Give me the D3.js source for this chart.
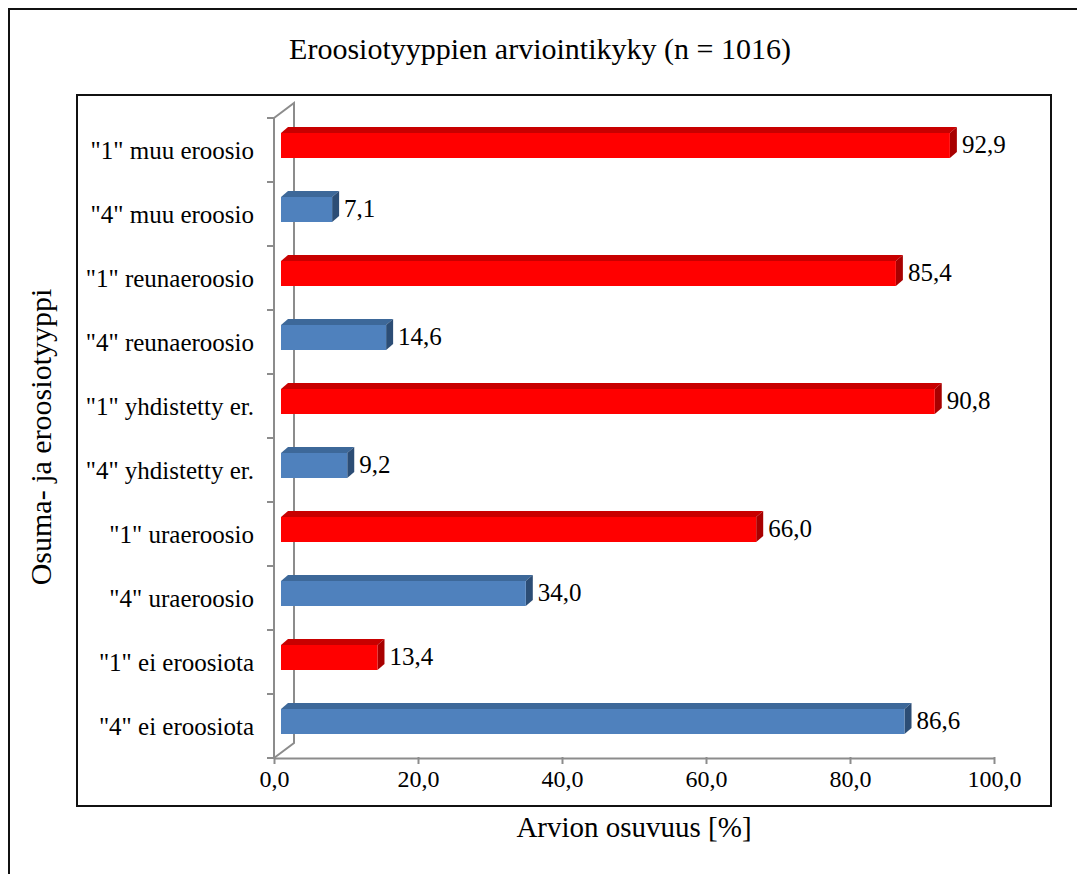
<!DOCTYPE html>
<html>
<head>
<meta charset="utf-8">
<script src="https://cdn.jsdelivr.net/npm/d3@7"></script>
<style>
  html, body { margin: 0; padding: 0; background: #fff; }
  svg { display: block; }
  text { font-family: "Liberation Serif", "Times New Roman", serif; fill: #000; }
</style>
</head>
<body>
<svg id="chart" width="1077" height="874"></svg>
<script>
// Categories from top to bottom
const categories = [
  '"1" muu eroosio',
  '"4" muu eroosio',
  '"1" reunaeroosio',
  '"4" reunaeroosio',
  '"1" yhdistetty er.',
  '"4" yhdistetty er.',
  '"1" uraeroosio',
  '"4" uraeroosio',
  '"1" ei eroosiota',
  '"4" ei eroosiota'
];
const values = [92.9, 7.1, 85.4, 14.6, 90.8, 9.2, 66.0, 34.0, 13.4, 86.6];
const groups = ["1", "4", "1", "4", "1", "4", "1", "4", "1", "4"];
const xTicks = [0, 20, 40, 60, 80, 100];

const title = "Eroosiotyyppien arviointikyky (n = 1016)";
const xTitle = "Arvion osuvuus [%]";
const yTitle = "Osuma- ja eroosiotyyppi";

const palette = {
  "1": { front: "#ff0000", top: "#c80000", side: "#a80000" },
  "4": { front: "#4f81bd", top: "#3d6899", side: "#2c4d75" }
};

const svg = d3.select("#chart");
const fmt = v => d3.format(".1f")(v).replace(".", ",");

// Frames
svg.append("rect").attr("x", 9).attr("y", 9).attr("width", 1100).attr("height", 900)
  .attr("fill", "none").attr("stroke", "#111").attr("stroke-width", 2);
svg.append("rect").attr("x", 77).attr("y", 95).attr("width", 974).attr("height", 711)
  .attr("fill", "none").attr("stroke", "#111").attr("stroke-width", 2);

// Front plane of the pseudo-3D plot
const x0 = 274, x1 = 994, yTop = 118, yBot = 758;
const depthX = 20, depthY = -15;
const x = d3.scaleLinear().domain([0, 100]).range([x0, x1]);
const y = d3.scaleBand().domain(categories).range([yTop, yBot]);

const axisColor = "#8c8c8c";
const g = svg.append("g");

// Back wall edge and side wall
g.append("path")
  .attr("d", `M${x0},${yTop}L${x0 + depthX},${yTop + depthY}L${x0 + depthX},${yBot + depthY}L${x0},${yBot}`)
  .attr("fill", "none").attr("stroke", axisColor).attr("stroke-width", 2);

// Vertical category axis (front) with ticks on the band edges
const bandEdges = d3.range(categories.length + 1).map(i => yTop + i * y.bandwidth());
g.selectAll("line.ytick").data(bandEdges).join("line")
  .attr("class", "ytick")
  .attr("x1", x0 - 7).attr("x2", x0)
  .attr("y1", d => d).attr("y2", d => d)
  .attr("stroke", axisColor).attr("stroke-width", 2);
g.append("line").attr("x1", x0).attr("x2", x0).attr("y1", yTop).attr("y2", yBot + 1)
  .attr("stroke", axisColor).attr("stroke-width", 2);

// Horizontal value axis
const xAxis = d3.axisBottom(x).tickValues(xTicks).tickSize(6).tickSizeOuter(0).tickFormat(fmt);
const xAxisG = g.append("g").attr("transform", `translate(0,${yBot})`).call(xAxis);
xAxisG.select(".domain").attr("stroke", axisColor).attr("stroke-width", 2);
xAxisG.selectAll(".tick line").attr("stroke", axisColor).attr("stroke-width", 2)
  .attr("y1", -1).attr("y2", 6);
xAxisG.selectAll(".tick text")
  .style("font-size", "24px").attr("fill", "#000").attr("dy", "0.71em").attr("y", 12);

// Category labels
g.selectAll("text.cat").data(categories).join("text")
  .attr("class", "cat")
  .attr("x", 254)
  .attr("y", d => y(d) + y.bandwidth() / 2)
  .attr("text-anchor", "end").attr("dominant-baseline", "central")
  .style("font-size", "25px")
  .text(d => d);

// Bars: front face, top face and end face
const barH = 25, barOff = 7, bdx = 7, bdy = -6;
const rows = categories.map((c, i) => ({ c, v: values[i], grp: groups[i] }));
const bars = g.selectAll("g.bar").data(rows).join("g").attr("class", "bar");
const bx0 = () => x(0) + barOff;
const bx1 = d => x(d.v) + barOff;
const btop = d => y(d.c) + y.bandwidth() / 2 - 17;

bars.append("path")
  .attr("d", d => `M${bx0()},${btop(d)}L${bx0() + bdx},${btop(d) + bdy}L${bx1(d) + bdx},${btop(d) + bdy}L${bx1(d)},${btop(d)}Z`)
  .attr("fill", d => palette[d.grp].top);
bars.append("path")
  .attr("d", d => `M${bx1(d)},${btop(d)}L${bx1(d) + bdx},${btop(d) + bdy}L${bx1(d) + bdx},${btop(d) + barH + bdy}L${bx1(d)},${btop(d) + barH}Z`)
  .attr("fill", d => palette[d.grp].side);
bars.append("rect")
  .attr("x", bx0()).attr("y", d => btop(d))
  .attr("width", d => bx1(d) - bx0()).attr("height", barH)
  .attr("fill", d => palette[d.grp].front);

// Value labels
bars.append("text")
  .attr("x", d => bx1(d) + bdx + 5)
  .attr("y", d => btop(d) + barH / 2 - 1)
  .attr("dominant-baseline", "central")
  .style("font-size", "25px")
  .text(d => fmt(d.v));

// Titles
svg.append("text").attr("x", 540).attr("y", 48)
  .attr("text-anchor", "middle").attr("dominant-baseline", "central")
  .style("font-size", "30px").text(title);
svg.append("text").attr("x", 634).attr("y", 827)
  .attr("text-anchor", "middle").attr("dominant-baseline", "central")
  .style("font-size", "29px").text(xTitle);
svg.append("text")
  .attr("transform", "translate(40,437) rotate(-90)")
  .attr("text-anchor", "middle").attr("dominant-baseline", "central")
  .style("font-size", "30px").text(yTitle);
</script>
</body>
</html>
